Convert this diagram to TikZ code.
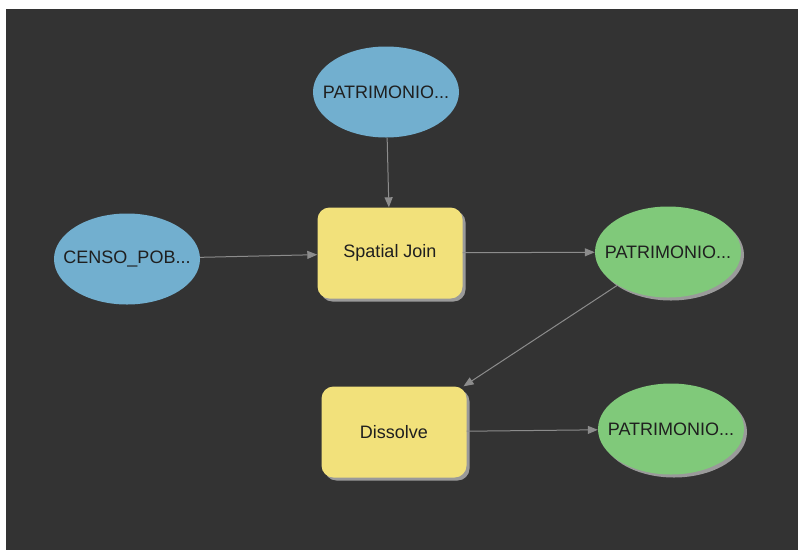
\documentclass[tikz,border=0pt]{standalone}
\usepackage{fontspec}
\setmainfont{Liberation Sans}
\usepackage{xcolor}
\usepackage{tikz}
\usetikzlibrary{arrows.meta,shapes.geometric}

\definecolor{bggray}{HTML}{333333}
\definecolor{inblue}{HTML}{72AFCF}
\definecolor{outgreen}{HTML}{80C97A}
\definecolor{toolyellow}{HTML}{F2E17B}
\definecolor{shadowgray}{HTML}{9A9A9A}
\definecolor{linkgray}{HTML}{8C8C8C}
\newcommand{\fitlabel}[1]{\makebox[0pt]{#1}}

\begin{document}
\begin{tikzpicture}[x=1pt,y=-1pt,every node/.style={font=\fontsize{18}{21}\selectfont,text=black!88},
data/.style={ellipse,fill=inblue,minimum width=146pt,minimum height=91pt,inner sep=0pt},
result/.style={data,fill=outgreen,preaction={fill=shadowgray,transform canvas={xshift=3pt,yshift=-3pt}}},
tool/.style={rectangle,rounded corners=12pt,fill=toolyellow,minimum width=145pt,minimum height=91pt,inner sep=0pt,preaction={fill=shadowgray,transform canvas={xshift=3pt,yshift=-3pt}}},
link/.style={draw=linkgray,line width=1pt,-{Triangle[length=10pt,width=8pt]}}]
\fill[white] (0,0) rectangle (798,550);
\fill[bggray] (6,9) rectangle (798,550);
\useasboundingbox (0,0) rectangle (798,550);

\node[data] (n0) at (386,92) {\fitlabel{PATRIMONIO...}};
\node[data] (n1) at (127,259) {\fitlabel{CENSO\_POB...}};
\node[tool] (n2) at (390,253) {Spatial Join};
\node[result] (n3) at (668,252) {\fitlabel{PATRIMONIO...}};

\node[tool] (n4) at (394,432) {Dissolve};
\node[result] (n5) at (671,429) {\fitlabel{PATRIMONIO...}};

\draw[link] (n0) -- (n2);
\draw[link] (n1) -- (n2);
\draw[link] (n2) -- (n3);
\draw[link] (n3) -- (n4);
\draw[link] (n4) -- (n5);

\end{tikzpicture}
\end{document}
